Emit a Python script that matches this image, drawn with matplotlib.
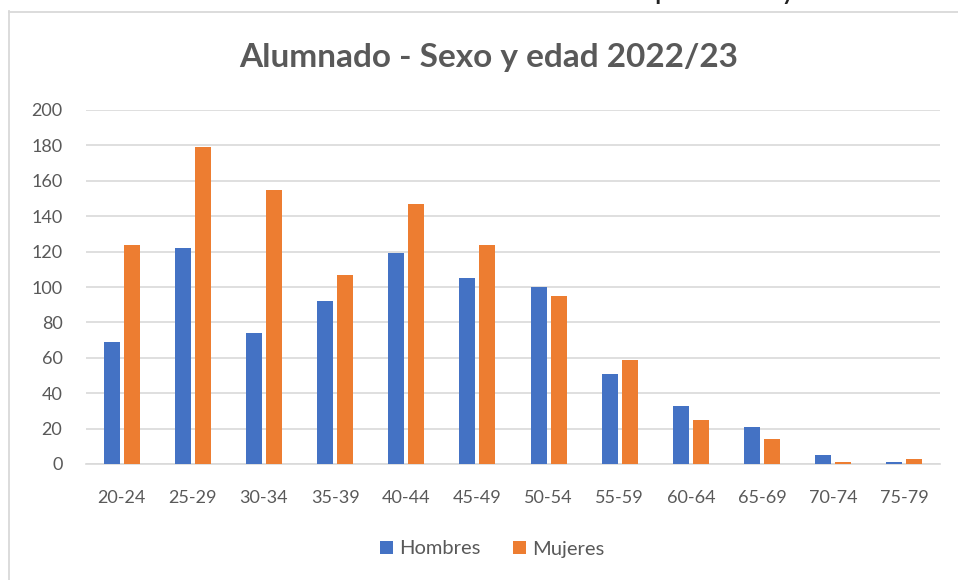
import matplotlib
matplotlib.use('agg')
import matplotlib.pyplot as plt
import numpy as np
from matplotlib.lines import Line2D

plt.rcParams['font.family'] = ['Lato', 'DejaVu Sans']

grupos = ['20-24', '25-29', '30-34', '35-39', '40-44', '45-49',
          '50-54', '55-59', '60-64', '65-69', '70-74', '75-79']
hombres = [69, 122, 74, 92, 119, 105, 100, 51, 33, 21, 5, 1]
mujeres = [124, 179, 155, 107, 147, 124, 95, 59, 25, 14, 1, 3]
y_ticks = [0, 20, 40, 60, 80, 100, 120, 140, 160, 180, 200]

azul = '#4472c4'
naranja = '#ed7d31'
gris_txt = '#595959'
gris_lin = '#d9d9d9'

W, H = 958, 580
fig = plt.figure(figsize=(W / 100, H / 100), dpi=100)

# marco del grafico (recortado en la imagen original)
fig.add_artist(Line2D([8.5 / W, 8.5 / W], [0, 1 - 11 / H], color=gris_lin, lw=1.3))
fig.add_artist(Line2D([8.5 / W, 1], [1 - 11.5 / H, 1 - 11.5 / H], color=gris_lin, lw=1.3))

# texto del documento, casi todo fuera de la imagen
fig.text(499 / W, 1 + 1 / H, 'Gráfico 11. Distribución del alumnado por sexo y edad',
         ha='center', va='baseline', fontsize=22.5, color='#222222')

ax = fig.add_axes([86 / W, 1 - 464 / H, (940 - 86) / W, (464 - 110) / H])
x = np.arange(len(grupos))
ancho = 0.225
ax.bar(x - 0.14, hombres, ancho, color=azul, label='Hombres', zorder=3)
ax.bar(x + 0.14, mujeres, ancho, color=naranja, label='Mujeres', zorder=3)

ax.set_xlim(-0.5, len(grupos) - 0.5)
ax.set_ylim(0, 200)
ax.set_yticks(y_ticks)
ax.set_xticks(x)
ax.set_xticklabels(grupos)
ax.tick_params(axis='both', length=0, labelsize=13, colors=gris_txt)
ax.tick_params(axis='x', pad=19)
ax.tick_params(axis='y', pad=17)
ax.grid(axis='y', color=gris_lin, lw=1.2, zorder=0)
for s in ['top', 'right', 'left']:
    ax.spines[s].set_visible(False)
ax.spines['bottom'].set_color(gris_lin)
ax.spines['bottom'].set_linewidth(1.2)

fig.text(489 / W, 1 - 57 / H, 'Alumnado - Sexo y edad 2022/23', ha='center', va='center',
         fontsize=24, fontweight='bold', color=gris_txt)

fig.legend(loc='center', bbox_to_anchor=(492 / W, 1 - 549 / H), ncol=2, frameon=False,
           fontsize=14.5, labelcolor=gris_txt, handlelength=0.65, handleheight=0.65,
           handletextpad=0.3, columnspacing=1.6)

fig.savefig('out.png', dpi=100)
